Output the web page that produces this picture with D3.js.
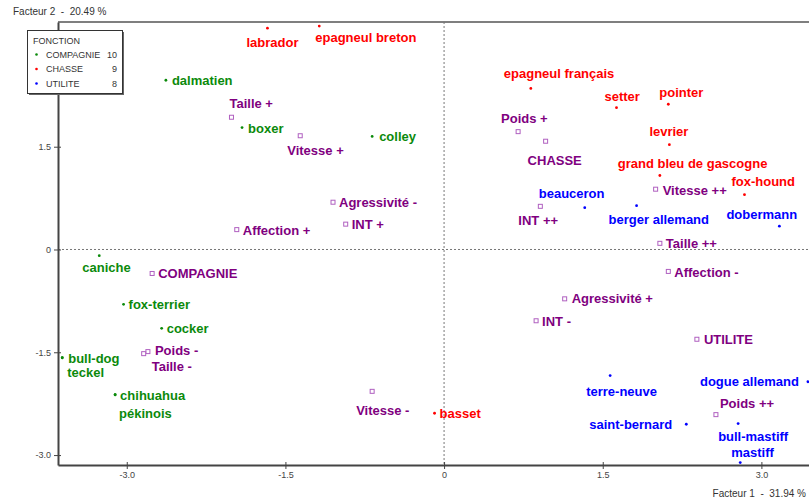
<!DOCTYPE html>
<html>
<head>
<meta charset="utf-8">
<script src="https://cdn.jsdelivr.net/npm/d3@7"></script>
<style>
  html, body { margin: 0; padding: 0; background: #fff; }
  svg { display: block; }
  text { white-space: pre; }
</style>
</head>
<body>
<svg id="chart" width="809" height="501"></svg>
<script>
// ---------- DATA ----------
const groups = ["COMPAGNIE", "CHASSE", "UTILITE"];
const groupCounts = [10, 9, 8];

const dogNames = ["dalmatien", "boxer", "colley", "caniche", "fox-terrier", "cocker", "bull-dog", "teckel", "chihuahua", "pékinois",
  "labrador", "epagneul breton", "epagneul français", "setter", "pointer", "levrier", "grand bleu de gascogne", "fox-hound", "basset",
  "beauceron", "berger allemand", "dobermann", "terre-neuve", "dogue allemand", "saint-bernard", "bull-mastiff", "mastiff"];
const dogGroup = ["COMPAGNIE", "COMPAGNIE", "COMPAGNIE", "COMPAGNIE", "COMPAGNIE", "COMPAGNIE", "COMPAGNIE", "COMPAGNIE", "COMPAGNIE", "COMPAGNIE",
  "CHASSE", "CHASSE", "CHASSE", "CHASSE", "CHASSE", "CHASSE", "CHASSE", "CHASSE", "CHASSE",
  "UTILITE", "UTILITE", "UTILITE", "UTILITE", "UTILITE", "UTILITE", "UTILITE", "UTILITE"];
const dogF1 = [-2.63, -1.91, -0.68, -3.26, -3.03, -2.67, -3.61, -3.61, -3.11, -3.11,
  -1.67, -1.18, 0.82, 1.63, 2.12, 2.13, 2.04, 2.84, -0.09,
  1.33, 1.82, 3.17, 1.57, 3.44, 2.29, 2.78, 2.80];
const dogF2 = [2.47, 1.78, 1.65, -0.09, -0.80, -1.15, -1.58, -1.58, -2.12, -2.12,
  3.23, 3.26, 2.35, 2.07, 2.12, 1.53, 1.08, 0.80, -2.39,
  0.61, 0.64, 0.34, -1.84, -1.93, -2.55, -2.54, -3.11];

const modNames = ["Taille +", "Vitesse +", "Agressivité -", "INT +", "Affection +", "COMPAGNIE", "Poids -", "Taille -", "Vitesse -",
  "Poids +", "CHASSE", "INT ++", "Vitesse ++", "Taille ++", "Affection -", "Agressivité +", "INT -", "UTILITE", "Poids ++"];
const modF1 = [-2.01, -1.36, -1.05, -0.93, -1.96, -2.76, -2.80, -2.84, -0.68,
  0.70, 0.96, 0.91, 2.00, 2.04, 2.12, 1.14, 0.87, 2.39, 2.57];
const modF2 = [1.93, 1.66, 0.69, 0.37, 0.29, -0.35, -1.49, -1.52, -2.07,
  1.72, 1.58, 0.63, 0.88, 0.09, -0.32, -0.72, -1.04, -1.31, -2.41];

const xTicks = [-3.0, -1.5, 0, 1.5, 3.0];
const yTicks = [-3.0, -1.5, 0, 1.5];
const xTitle = "Facteur 1  -  31.94 %";
const yTitle = "Facteur 2  -  20.49 %";
const legendTitle = "FONCTION";

// ---------- LAYOUT / STYLE ----------
const groupColor = { COMPAGNIE: "#0b8a0b", CHASSE: "#ff0000", UTILITE: "#0000ff" };
const modColor = "#800080";
// label offsets from the marker: [dx, dy, anchor]
const labelPos = {
  "dalmatien": [6, 5, "start"], "boxer": [6, 5, "start"], "colley": [7, 5, "start"],
  "caniche": [-17, 16, "start"], "fox-terrier": [5, 5, "start"], "cocker": [5, 5, "start"],
  "bull-dog": [6, 5, "start"], "teckel": [5, 19, "start"], "chihuahua": [5, 5, "start"], "pékinois": [4, 23, "start"],
  "labrador": [-21, 19, "start"], "epagneul breton": [-4, 16, "start"], "epagneul français": [-27, -10, "start"],
  "setter": [-12, -7, "start"], "pointer": [-9, -7, "start"], "levrier": [-20, -9, "start"],
  "grand bleu de gascogne": [-42, -7, "start"], "fox-hound": [-13, -9, "start"], "basset": [5, 5, "start"],
  "beauceron": [-46, -10, "start"], "berger allemand": [-28, 18, "start"], "dobermann": [-53, -7, "start"],
  "terre-neuve": [-24, 20, "start"], "dogue allemand": [-9, 4, "end"], "saint-bernard": [-14, 5, "end"],
  "bull-mastiff": [-20, 17, "start"], "mastiff": [-9, -6, "start"],
  "Taille +": [-2, -9, "start"], "Vitesse +": [-13, 19, "start"], "Agressivité -": [6, 5, "start"],
  "INT +": [6, 5, "start"], "Affection +": [6, 5, "start"], "COMPAGNIE": [6, 5, "start"],
  "Poids -": [7, 3, "start"], "Taille -": [8, 17, "start"], "Vitesse -": [-16, 24, "start"],
  "Poids +": [-17, -9, "start"], "CHASSE": [-18, 24, "start"], "INT ++": [-22, 19, "start"],
  "Vitesse ++": [7, 6, "start"], "Taille ++": [6, 5, "start"], "Affection -": [6, 6, "start"],
  "Agressivité +": [7, 4, "start"], "INT -": [6, 5, "start"], "UTILITE": [7, 5, "start"], "Poids ++": [4, -7, "start"]
};

const svg = d3.select("#chart");
const pLeft = 58, pRight = 809, pTop = 22, pBottom = 465;

const x = d3.scaleLinear().domain([-3.65, 3.45]).range([pLeft, pRight]);
const y = d3.scaleLinear().domain([-3.145, 3.32]).range([pBottom, pTop]);

const labelFont = "'Liberation Sans', Arial, sans-serif";

// top border
svg.append("line").attr("x1", pLeft).attr("x2", pRight).attr("y1", pTop).attr("y2", pTop)
  .attr("stroke", "#555").attr("stroke-width", 1.5);

// zero dotted lines
svg.append("line").attr("x1", x(0)).attr("x2", x(0)).attr("y1", pTop).attr("y2", pBottom)
  .attr("stroke", "#777").attr("stroke-width", 1).attr("stroke-dasharray", "2,2");
svg.append("line").attr("x1", pLeft).attr("x2", pRight).attr("y1", y(0)).attr("y2", y(0))
  .attr("stroke", "#777").attr("stroke-width", 1).attr("stroke-dasharray", "2,2");

const fmt = d => d === 0 ? "0" : d.toFixed(1);

// x axis
const gx = svg.append("g").attr("transform", `translate(0,${pBottom})`)
  .call(d3.axisBottom(x).tickValues(xTicks).tickFormat(fmt).tickSize(4).tickSizeOuter(0));
gx.select(".domain").attr("stroke", "#444").attr("stroke-width", 2);
gx.selectAll(".tick line").attr("stroke", "#444").attr("y1", -3).attr("y2", 4);
gx.selectAll(".tick text").attr("font-family", labelFont).attr("font-size", 9)
  .attr("fill", "#444").attr("dy", "0.9em").attr("y", 5);

// y axis
const gy = svg.append("g").attr("transform", `translate(${pLeft},0)`)
  .call(d3.axisLeft(y).tickValues(yTicks).tickFormat(fmt).tickSize(4).tickSizeOuter(0));
gy.select(".domain").attr("stroke", "#444").attr("stroke-width", 2);
gy.selectAll(".tick line").attr("stroke", "#444").attr("x1", 3).attr("x2", -4);
gy.selectAll(".tick text").attr("font-family", labelFont).attr("font-size", 9)
  .attr("fill", "#444").attr("x", -7);

// axis titles
svg.append("text").attr("x", 13).attr("y", 15).text(yTitle)
  .attr("font-family", labelFont).attr("font-size", 10).attr("fill", "#333");
svg.append("text").attr("x", 806).attr("y", 497).attr("text-anchor", "end").text(xTitle)
  .attr("font-family", labelFont).attr("font-size", 10).attr("fill", "#333");

// modalities (squares)
const mods = modNames.map((n, i) => ({ name: n, f1: modF1[i], f2: modF2[i] }));
const gm = svg.append("g");
gm.selectAll("rect").data(mods).join("rect")
  .attr("x", d => x(d.f1) - 2).attr("y", d => y(d.f2) - 2)
  .attr("width", 4).attr("height", 4)
  .attr("fill", "#fff").attr("stroke", "#b060c0").attr("stroke-width", 1);
gm.selectAll("text").data(mods).join("text")
  .attr("x", d => x(d.f1) + labelPos[d.name][0])
  .attr("y", d => y(d.f2) + labelPos[d.name][1])
  .attr("text-anchor", d => labelPos[d.name][2])
  .attr("font-family", labelFont).attr("font-size", 13).attr("font-weight", "bold")
  .attr("fill", modColor).text(d => d.name);

// dogs (points)
const dogs = dogNames.map((n, i) => ({ name: n, group: dogGroup[i], f1: dogF1[i], f2: dogF2[i] }));
const gd = svg.append("g");
gd.selectAll("circle").data(dogs).join("circle")
  .attr("cx", d => x(d.f1)).attr("cy", d => y(d.f2)).attr("r", 1.4)
  .attr("fill", d => groupColor[d.group]);
gd.selectAll("text").data(dogs).join("text")
  .attr("x", d => x(d.f1) + labelPos[d.name][0])
  .attr("y", d => y(d.f2) + labelPos[d.name][1])
  .attr("text-anchor", d => labelPos[d.name][2])
  .attr("font-family", labelFont).attr("font-size", 13).attr("font-weight", "bold")
  .attr("fill", d => groupColor[d.group]).text(d => d.name);

// legend
const lg = svg.append("g");
lg.append("rect").attr("x", 29).attr("y", 32).attr("width", 95).attr("height", 63)
  .attr("fill", "#666");
lg.append("rect").attr("x", 27.5).attr("y", 30.5).attr("width", 95).attr("height", 63)
  .attr("fill", "#fff").attr("stroke", "#333").attr("stroke-width", 1);
lg.append("text").attr("x", 33).attr("y", 44).text(legendTitle)
  .attr("font-family", labelFont).attr("font-size", 9).attr("fill", "#333");
groups.forEach((g, i) => {
  const yy = 57.5 + i * 14.5;
  lg.append("circle").attr("cx", 36.5).attr("cy", yy - 3).attr("r", 1.3).attr("fill", groupColor[g]);
  lg.append("text").attr("x", 46).attr("y", yy).text(g)
    .attr("font-family", labelFont).attr("font-size", 9).attr("fill", "#333");
  lg.append("text").attr("x", 117).attr("y", yy).attr("text-anchor", "end").text(groupCounts[i])
    .attr("font-family", labelFont).attr("font-size", 9).attr("fill", "#333");
});
</script>
</body>
</html>
